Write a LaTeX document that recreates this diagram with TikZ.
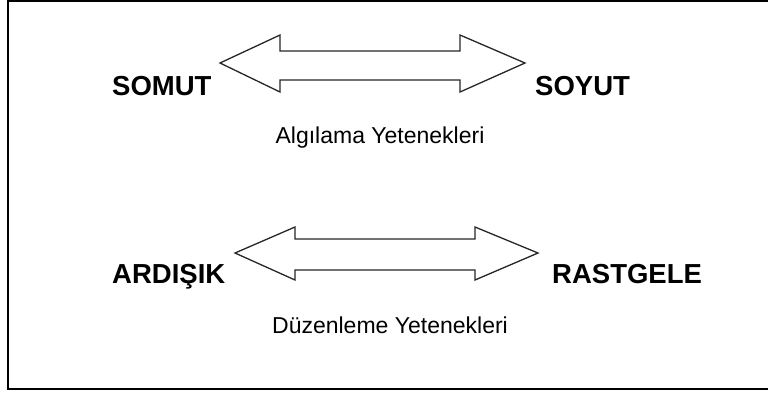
\documentclass[tikz,border=0pt]{standalone}
\usepackage{fontspec}
\setmainfont{Liberation Sans}
\usetikzlibrary{positioning}
\tikzstyle{pole_label}=[font=\bfseries\fontsize{27.5}{30}\selectfont,
        inner sep=0pt]
\tikzstyle{caption_label}=[font=\fontsize{23}{26}\selectfont,
        inner sep=0pt]
\tikzstyle{block_arrow}=[draw=black!85,
        line width=1.3pt,
        fill=white,
        line join=miter, ]
\tikzstyle{frame_line}=[draw=black, line width=2pt]

\begin{document}
\begin{tikzpicture}[x=1pt, y=-1pt]
    \useasboundingbox (0,0) rectangle (768,392);
    \draw[frame_line] (770,1) -- (8,1) -- (8,389) -- (770,389);

    % upper arrow: algilama
    \draw[block_arrow] (220,63) -- (280,35) -- (280,51) -- (460,51) -- (460,35) -- (525,63)
        -- (460,92) -- (460,80) -- (280,80) -- (280,92) -- cycle;
    \node at (112,95) (somut) [pole_label, anchor=base west] {SOMUT};
    \node at (535,95) (soyut) [pole_label, anchor=base west] {SOYUT};
    \node at (380,143) (algilama) [caption_label, anchor=base] {Algılama Yetenekleri};

    % lower arrow: duzenleme
    \draw[block_arrow] (235,253) -- (295,227) -- (295,239) -- (475,239) -- (475,227) -- (538,253)
        -- (475,280) -- (475,270) -- (295,270) -- (295,280) -- cycle;
    \node at (112,283) (ardisik) [pole_label, anchor=base west] {ARDIŞIK};
    \node at (552,283) (rastgele) [pole_label, anchor=base west] {RASTGELE};
    \node at (390,333) (duzenleme) [caption_label, anchor=base] {Düzenleme Yetenekleri};

\end{tikzpicture}
\end{document}
